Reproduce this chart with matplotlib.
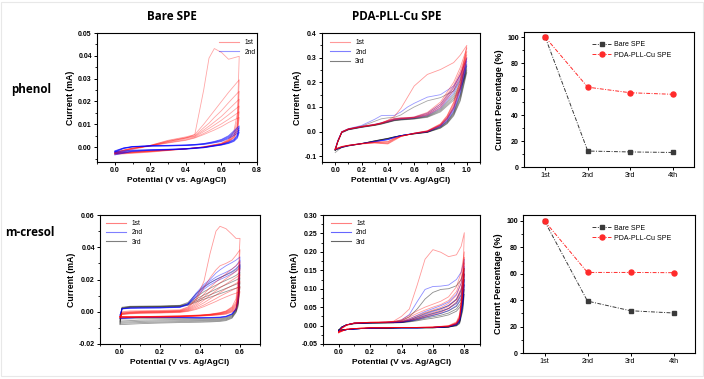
import matplotlib
matplotlib.use("Agg")
import matplotlib.pyplot as plt
from matplotlib.ticker import MultipleLocator, AutoMinorLocator
from matplotlib.lines import Line2D
from matplotlib.patches import Rectangle

plt.rcParams['font.family'] = ['Liberation Sans', 'DejaVu Sans']

W, H = 704, 379

# ---------------- Panel 1: Bare SPE, phenol ----------------
p1_E_fwd = [0.00, 0.05, 0.10, 0.20, 0.30, 0.40, 0.45, 0.50, 0.53, 0.56, 0.60, 0.64, 0.70]
p1_E_rev = [0.69, 0.67, 0.64, 0.60, 0.50, 0.40, 0.30, 0.20, 0.10, 0.00]
p1_red_fwd = [
    [-0.0030, -0.0020, -0.0010, 0.0005, 0.0025, 0.0040, 0.0055, 0.0250, 0.0390, 0.0432, 0.0415, 0.0385, 0.0398],
    [-0.0028, -0.0018, -0.0008, 0.0008, 0.0030, 0.0045, 0.0055, 0.0100, 0.0130, 0.0160, 0.0200, 0.0240, 0.0295],
    [-0.0026, -0.0016, -0.0007, 0.0008, 0.0028, 0.0042, 0.0050, 0.0085, 0.0105, 0.0130, 0.0160, 0.0195, 0.0245],
    [-0.0025, -0.0015, -0.0006, 0.0007, 0.0025, 0.0040, 0.0048, 0.0075, 0.0092, 0.0110, 0.0135, 0.0165, 0.0210],
    [-0.0024, -0.0014, -0.0005, 0.0006, 0.0022, 0.0036, 0.0045, 0.0068, 0.0082, 0.0097, 0.0118, 0.0142, 0.0180],
    [-0.0023, -0.0013, -0.0004, 0.0005, 0.0020, 0.0032, 0.0042, 0.0060, 0.0072, 0.0085, 0.0102, 0.0122, 0.0155],
    [-0.0022, -0.0012, -0.0003, 0.0005, 0.0018, 0.0030, 0.0040, 0.0055, 0.0065, 0.0075, 0.0090, 0.0108, 0.0130],
]
p1_red_rev = [
    [0.0150, 0.0070, 0.0035, 0.0018, 0.0002, -0.0008, -0.0015, -0.0022, -0.0027, -0.0032],
    [0.0120, 0.0060, 0.0032, 0.0016, 0.0001, -0.0008, -0.0014, -0.0020, -0.0025, -0.0030],
    [0.0100, 0.0052, 0.0030, 0.0015, 0.0001, -0.0007, -0.0013, -0.0019, -0.0024, -0.0029],
    [0.0090, 0.0048, 0.0028, 0.0014, 0.0000, -0.0007, -0.0013, -0.0018, -0.0023, -0.0028],
    [0.0080, 0.0045, 0.0026, 0.0013, 0.0000, -0.0007, -0.0012, -0.0017, -0.0022, -0.0027],
    [0.0072, 0.0042, 0.0025, 0.0012, -0.0001, -0.0007, -0.0012, -0.0016, -0.0021, -0.0026],
    [0.0065, 0.0040, 0.0024, 0.0012, -0.0001, -0.0007, -0.0011, -0.0016, -0.0020, -0.0025],
]
p1_blue_fwd = [
    [-0.0016, -0.0003, 0.0003, 0.0007, 0.0008, 0.0010, 0.0012, 0.0016, 0.0020, 0.0025, 0.0034, 0.0050, 0.0093],
    [-0.0018, -0.0004, 0.0002, 0.0006, 0.0007, 0.0009, 0.0011, 0.0015, 0.0019, 0.0023, 0.0031, 0.0046, 0.0085],
    [-0.0020, -0.0005, 0.0002, 0.0005, 0.0006, 0.0008, 0.0010, 0.0013, 0.0017, 0.0021, 0.0028, 0.0042, 0.0075],
    [-0.0022, -0.0006, 0.0001, 0.0004, 0.0005, 0.0007, 0.0009, 0.0012, 0.0015, 0.0019, 0.0025, 0.0038, 0.0065],
]
p1_blue_rev = [
    [0.0055, 0.0034, 0.0022, 0.0012, 0.0000, -0.0006, -0.0009, -0.0011, -0.0013, -0.0020],
    [0.0050, 0.0031, 0.0020, 0.0011, -0.0001, -0.0007, -0.0010, -0.0012, -0.0015, -0.0025],
    [0.0045, 0.0028, 0.0018, 0.0010, -0.0002, -0.0008, -0.0011, -0.0013, -0.0017, -0.0030],
    [0.0040, 0.0025, 0.0016, 0.0009, -0.0003, -0.0009, -0.0012, -0.0014, -0.0019, -0.0034],
]

# ---------------- Panel 2: PDA-PLL-Cu SPE, phenol ----------------
p2_E_fwd = [0.00, 0.02, 0.05, 0.10, 0.20, 0.30, 0.35, 0.40, 0.45, 0.50, 0.55, 0.60, 0.70, 0.80, 0.90, 0.95, 1.00]
p2_E_rev = [0.95, 0.90, 0.85, 0.80, 0.70, 0.60, 0.50, 0.45, 0.40, 0.30, 0.20, 0.10, 0.05, 0.00]
p2_red_fwd = [
    [-0.072, -0.040, -0.002, 0.010, 0.020, 0.028, 0.035, 0.046, 0.062, 0.095, 0.140, 0.185, 0.232, 0.252, 0.280, 0.310, 0.350],
    [-0.070, -0.038, 0.000, 0.012, 0.022, 0.030, 0.036, 0.046, 0.054, 0.056, 0.057, 0.060, 0.078, 0.120, 0.200, 0.260, 0.340],
    [-0.071, -0.039, -0.001, 0.011, 0.021, 0.029, 0.035, 0.044, 0.052, 0.055, 0.056, 0.058, 0.074, 0.112, 0.188, 0.245, 0.325],
    [-0.072, -0.040, -0.002, 0.010, 0.020, 0.028, 0.034, 0.042, 0.050, 0.053, 0.055, 0.057, 0.070, 0.105, 0.178, 0.235, 0.312],
    [-0.073, -0.041, -0.003, 0.009, 0.019, 0.027, 0.033, 0.040, 0.048, 0.052, 0.054, 0.056, 0.067, 0.098, 0.168, 0.225, 0.300],
]
p2_red_rev = [
    [0.210, 0.120, 0.065, 0.032, 0.004, -0.006, -0.020, -0.035, -0.050, -0.046, -0.050, -0.057, -0.062, -0.072],
    [0.200, 0.115, 0.062, 0.030, 0.003, -0.006, -0.019, -0.032, -0.048, -0.045, -0.049, -0.056, -0.061, -0.071],
    [0.190, 0.108, 0.058, 0.028, 0.002, -0.007, -0.019, -0.030, -0.045, -0.044, -0.049, -0.056, -0.061, -0.071],
    [0.180, 0.100, 0.054, 0.026, 0.001, -0.007, -0.018, -0.028, -0.042, -0.043, -0.048, -0.055, -0.060, -0.070],
    [0.170, 0.094, 0.050, 0.024, 0.000, -0.008, -0.018, -0.026, -0.040, -0.042, -0.048, -0.055, -0.060, -0.070],
]
p2_blue_fwd = [
    [-0.070, -0.035, 0.000, 0.012, 0.025, 0.050, 0.065, 0.066, 0.066, 0.080, 0.100, 0.115, 0.140, 0.150, 0.185, 0.230, 0.295],
    [-0.071, -0.037, -0.001, 0.011, 0.021, 0.030, 0.036, 0.044, 0.052, 0.055, 0.056, 0.059, 0.075, 0.112, 0.180, 0.230, 0.300],
    [-0.072, -0.038, -0.002, 0.010, 0.020, 0.029, 0.035, 0.042, 0.050, 0.053, 0.055, 0.057, 0.070, 0.104, 0.168, 0.218, 0.285],
    [-0.073, -0.039, -0.003, 0.009, 0.019, 0.028, 0.034, 0.040, 0.048, 0.051, 0.053, 0.055, 0.066, 0.096, 0.158, 0.205, 0.270],
]
p2_blue_rev = [
    [0.180, 0.100, 0.055, 0.027, 0.002, -0.006, -0.016, -0.024, -0.032, -0.040, -0.048, -0.056, -0.062, -0.072],
    [0.175, 0.095, 0.052, 0.025, 0.001, -0.007, -0.016, -0.024, -0.033, -0.041, -0.048, -0.056, -0.062, -0.072],
    [0.165, 0.090, 0.048, 0.023, 0.000, -0.007, -0.016, -0.023, -0.032, -0.041, -0.049, -0.057, -0.063, -0.073],
    [0.155, 0.084, 0.044, 0.021, -0.001, -0.008, -0.016, -0.023, -0.031, -0.040, -0.049, -0.057, -0.063, -0.073],
]
p2_gray_fwd = [
    [-0.075, -0.040, -0.001, 0.010, 0.022, 0.042, 0.052, 0.056, 0.058, 0.068, 0.085, 0.100, 0.125, 0.138, 0.165, 0.210, 0.275],
    [-0.074, -0.040, -0.002, 0.009, 0.019, 0.027, 0.033, 0.040, 0.047, 0.050, 0.052, 0.054, 0.064, 0.092, 0.150, 0.195, 0.265],
    [-0.075, -0.041, -0.003, 0.008, 0.018, 0.026, 0.032, 0.039, 0.046, 0.049, 0.051, 0.053, 0.062, 0.088, 0.142, 0.185, 0.255],
    [-0.076, -0.042, -0.004, 0.008, 0.018, 0.026, 0.031, 0.038, 0.045, 0.048, 0.050, 0.052, 0.060, 0.084, 0.135, 0.177, 0.248],
    [-0.077, -0.043, -0.005, 0.007, 0.017, 0.025, 0.030, 0.037, 0.044, 0.047, 0.049, 0.051, 0.058, 0.080, 0.128, 0.170, 0.240],
]
p2_gray_rev = [
    [0.150, 0.080, 0.042, 0.020, -0.001, -0.008, -0.016, -0.022, -0.029, -0.038, -0.048, -0.056, -0.063, -0.085],
    [0.145, 0.076, 0.040, 0.019, -0.002, -0.008, -0.016, -0.022, -0.028, -0.038, -0.048, -0.057, -0.063, -0.074],
    [0.138, 0.072, 0.037, 0.017, -0.002, -0.009, -0.016, -0.021, -0.028, -0.038, -0.049, -0.057, -0.064, -0.074],
    [0.130, 0.068, 0.034, 0.015, -0.003, -0.009, -0.016, -0.021, -0.027, -0.037, -0.049, -0.058, -0.064, -0.075],
    [0.124, 0.064, 0.032, 0.014, -0.003, -0.009, -0.016, -0.021, -0.027, -0.037, -0.049, -0.058, -0.065, -0.075],
]

# ---------------- Panel 4: Bare SPE, m-cresol ----------------
p4_E_fwd = [0.00, 0.01, 0.05, 0.10, 0.20, 0.30, 0.34, 0.38, 0.42, 0.45, 0.48, 0.50, 0.53, 0.56, 0.58, 0.60]
p4_E_rev = [0.59, 0.58, 0.56, 0.53, 0.50, 0.45, 0.40, 0.30, 0.20, 0.10, 0.00]
p4_red_fwd = [
    [-0.0040, 0.0000, 0.0005, 0.0006, 0.0008, 0.0012, 0.0030, 0.0080, 0.0190, 0.0360, 0.0500, 0.0530, 0.0515, 0.0480, 0.0455, 0.0455],
    [-0.0035, -0.0005, 0.0000, 0.0002, 0.0004, 0.0008, 0.0025, 0.0070, 0.0150, 0.0210, 0.0260, 0.0285, 0.0300, 0.0320, 0.0350, 0.0385],
    [-0.0033, -0.0008, -0.0003, 0.0000, 0.0002, 0.0006, 0.0020, 0.0055, 0.0110, 0.0150, 0.0185, 0.0205, 0.0235, 0.0265, 0.0285, 0.0310],
    [-0.0032, -0.0010, -0.0005, -0.0002, 0.0000, 0.0004, 0.0016, 0.0045, 0.0090, 0.0125, 0.0158, 0.0178, 0.0205, 0.0232, 0.0250, 0.0270],
    [-0.0031, -0.0012, -0.0007, -0.0004, -0.0002, 0.0002, 0.0012, 0.0036, 0.0072, 0.0102, 0.0130, 0.0148, 0.0172, 0.0196, 0.0212, 0.0230],
    [-0.0030, -0.0014, -0.0009, -0.0006, -0.0004, 0.0000, 0.0008, 0.0028, 0.0056, 0.0080, 0.0104, 0.0120, 0.0142, 0.0162, 0.0176, 0.0190],
    [-0.0030, -0.0016, -0.0011, -0.0008, -0.0006, -0.0002, 0.0005, 0.0020, 0.0042, 0.0062, 0.0082, 0.0096, 0.0115, 0.0133, 0.0145, 0.0155],
    [-0.0030, -0.0018, -0.0013, -0.0010, -0.0008, -0.0004, 0.0002, 0.0014, 0.0032, 0.0048, 0.0064, 0.0076, 0.0092, 0.0107, 0.0115, 0.0125],
]
p4_red_rev = [
    [0.0200, 0.0080, 0.0030, 0.0005, -0.0005, -0.0015, -0.0020, -0.0025, -0.0028, -0.0030, -0.0040],
    [0.0150, 0.0060, 0.0025, 0.0003, -0.0007, -0.0016, -0.0021, -0.0026, -0.0028, -0.0030, -0.0035],
    [0.0130, 0.0050, 0.0020, 0.0000, -0.0009, -0.0017, -0.0022, -0.0027, -0.0029, -0.0031, -0.0034],
    [0.0110, 0.0042, 0.0015, -0.0003, -0.0011, -0.0018, -0.0023, -0.0028, -0.0030, -0.0032, -0.0033],
    [0.0095, 0.0035, 0.0010, -0.0006, -0.0013, -0.0020, -0.0024, -0.0029, -0.0031, -0.0032, -0.0032],
    [0.0080, 0.0028, 0.0006, -0.0009, -0.0015, -0.0021, -0.0025, -0.0030, -0.0032, -0.0033, -0.0031],
    [0.0065, 0.0020, 0.0002, -0.0012, -0.0017, -0.0023, -0.0026, -0.0031, -0.0033, -0.0034, -0.0030],
    [0.0050, 0.0012, -0.0002, -0.0015, -0.0019, -0.0024, -0.0027, -0.0032, -0.0034, -0.0035, -0.0030],
]
p4_blue_fwd = [
    [-0.0020, 0.0020, 0.0024, 0.0025, 0.0026, 0.0030, 0.0050, 0.0115, 0.0170, 0.0200, 0.0240, 0.0260, 0.0285, 0.0305, 0.0320, 0.0340],
    [-0.0021, 0.0019, 0.0023, 0.0024, 0.0025, 0.0029, 0.0048, 0.0108, 0.0160, 0.0190, 0.0215, 0.0228, 0.0245, 0.0265, 0.0285, 0.0320],
    [-0.0022, 0.0018, 0.0022, 0.0023, 0.0024, 0.0028, 0.0046, 0.0100, 0.0150, 0.0178, 0.0200, 0.0212, 0.0230, 0.0250, 0.0268, 0.0295],
    [-0.0024, 0.0017, 0.0021, 0.0022, 0.0023, 0.0027, 0.0042, 0.0092, 0.0140, 0.0166, 0.0188, 0.0200, 0.0217, 0.0236, 0.0252, 0.0280],
]
p4_blue_rev = [
    [0.0080, 0.0020, -0.0012, -0.0028, -0.0033, -0.0035, -0.0036, -0.0035, -0.0034, -0.0034, -0.0038],
    [0.0075, 0.0018, -0.0014, -0.0029, -0.0034, -0.0036, -0.0037, -0.0036, -0.0035, -0.0035, -0.0040],
    [0.0070, 0.0016, -0.0015, -0.0030, -0.0035, -0.0037, -0.0038, -0.0036, -0.0035, -0.0035, -0.0041],
    [0.0065, 0.0014, -0.0016, -0.0031, -0.0036, -0.0038, -0.0039, -0.0037, -0.0036, -0.0036, -0.0043],
]
p4_gray_fwd = [
    [-0.0045, 0.0028, 0.0034, 0.0035, 0.0036, 0.0040, 0.0058, 0.0110, 0.0155, 0.0180, 0.0200, 0.0212, 0.0228, 0.0246, 0.0262, 0.0290],
    [-0.0055, 0.0025, 0.0032, 0.0033, 0.0034, 0.0038, 0.0052, 0.0090, 0.0125, 0.0145, 0.0165, 0.0178, 0.0195, 0.0212, 0.0225, 0.0245],
    [-0.0062, 0.0022, 0.0030, 0.0031, 0.0032, 0.0036, 0.0048, 0.0078, 0.0105, 0.0122, 0.0140, 0.0152, 0.0168, 0.0185, 0.0196, 0.0210],
    [-0.0070, 0.0020, 0.0028, 0.0029, 0.0030, 0.0034, 0.0044, 0.0068, 0.0090, 0.0105, 0.0120, 0.0130, 0.0145, 0.0160, 0.0170, 0.0180],
    [-0.0078, 0.0018, 0.0026, 0.0027, 0.0028, 0.0032, 0.0040, 0.0060, 0.0078, 0.0090, 0.0103, 0.0112, 0.0125, 0.0138, 0.0146, 0.0155],
]
p4_gray_rev = [
    [0.0070, 0.0015, -0.0020, -0.0035, -0.0040, -0.0042, -0.0042, -0.0042, -0.0042, -0.0043, -0.0045],
    [0.0060, 0.0010, -0.0025, -0.0040, -0.0045, -0.0048, -0.0048, -0.0048, -0.0050, -0.0052, -0.0058],
    [0.0050, 0.0005, -0.0030, -0.0045, -0.0050, -0.0053, -0.0054, -0.0055, -0.0057, -0.0060, -0.0065],
    [0.0040, 0.0000, -0.0035, -0.0050, -0.0055, -0.0058, -0.0059, -0.0061, -0.0064, -0.0067, -0.0072],
    [0.0030, -0.0005, -0.0040, -0.0055, -0.0060, -0.0063, -0.0065, -0.0067, -0.0070, -0.0074, -0.0080],
]

# ---------------- Panel 5: PDA-PLL-Cu SPE, m-cresol ----------------
p5_E_fwd = [0.00, 0.02, 0.05, 0.10, 0.20, 0.30, 0.35, 0.40, 0.45, 0.50, 0.55, 0.60, 0.65, 0.70, 0.75, 0.78, 0.80]
p5_E_rev = [0.79, 0.77, 0.75, 0.70, 0.60, 0.50, 0.40, 0.30, 0.20, 0.10, 0.05, 0.00]
p5_red_fwd = [
    [-0.020, -0.008, 0.000, 0.006, 0.008, 0.009, 0.012, 0.025, 0.045, 0.110, 0.180, 0.206, 0.199, 0.187, 0.192, 0.215, 0.252],
    [-0.019, -0.007, 0.001, 0.007, 0.009, 0.010, 0.011, 0.016, 0.028, 0.040, 0.050, 0.058, 0.066, 0.078, 0.105, 0.145, 0.200],
    [-0.018, -0.007, 0.001, 0.007, 0.009, 0.010, 0.011, 0.014, 0.023, 0.033, 0.042, 0.050, 0.057, 0.068, 0.092, 0.128, 0.185],
    [-0.018, -0.006, 0.002, 0.007, 0.009, 0.009, 0.010, 0.012, 0.019, 0.027, 0.035, 0.042, 0.049, 0.060, 0.082, 0.115, 0.170],
    [-0.017, -0.006, 0.002, 0.007, 0.008, 0.009, 0.010, 0.011, 0.016, 0.022, 0.029, 0.035, 0.042, 0.052, 0.072, 0.102, 0.155],
    [-0.017, -0.006, 0.002, 0.007, 0.008, 0.009, 0.009, 0.010, 0.014, 0.018, 0.024, 0.030, 0.036, 0.046, 0.064, 0.092, 0.140],
]
p5_red_rev = [
    [0.120, 0.030, 0.010, 0.000, -0.004, -0.005, -0.005, -0.006, -0.006, -0.008, -0.010, -0.020],
    [0.100, 0.025, 0.008, -0.001, -0.004, -0.005, -0.005, -0.006, -0.006, -0.008, -0.010, -0.019],
    [0.095, 0.023, 0.007, -0.001, -0.004, -0.005, -0.005, -0.006, -0.006, -0.008, -0.010, -0.018],
    [0.090, 0.021, 0.006, -0.002, -0.004, -0.005, -0.005, -0.006, -0.006, -0.008, -0.010, -0.018],
    [0.085, 0.019, 0.005, -0.002, -0.005, -0.005, -0.005, -0.006, -0.006, -0.008, -0.010, -0.017],
    [0.080, 0.017, 0.004, -0.002, -0.005, -0.005, -0.005, -0.006, -0.006, -0.008, -0.010, -0.017],
]
p5_blue_fwd = [
    [-0.016, -0.005, 0.002, 0.007, 0.008, 0.009, 0.010, 0.015, 0.030, 0.065, 0.098, 0.106, 0.107, 0.110, 0.125, 0.145, 0.180],
    [-0.016, -0.005, 0.002, 0.007, 0.008, 0.009, 0.009, 0.011, 0.018, 0.028, 0.038, 0.046, 0.054, 0.064, 0.085, 0.115, 0.160],
    [-0.016, -0.005, 0.002, 0.007, 0.008, 0.009, 0.009, 0.010, 0.015, 0.023, 0.031, 0.038, 0.045, 0.055, 0.072, 0.098, 0.140],
    [-0.015, -0.005, 0.002, 0.006, 0.008, 0.008, 0.009, 0.010, 0.013, 0.019, 0.026, 0.032, 0.038, 0.047, 0.062, 0.085, 0.125],
    [-0.015, -0.005, 0.002, 0.006, 0.007, 0.008, 0.008, 0.009, 0.012, 0.016, 0.022, 0.027, 0.033, 0.041, 0.054, 0.075, 0.112],
]
p5_blue_rev = [
    [0.090, 0.020, 0.006, -0.002, -0.005, -0.006, -0.006, -0.006, -0.007, -0.009, -0.011, -0.016],
    [0.080, 0.018, 0.005, -0.002, -0.005, -0.006, -0.006, -0.006, -0.007, -0.009, -0.011, -0.016],
    [0.070, 0.015, 0.004, -0.003, -0.005, -0.006, -0.006, -0.006, -0.007, -0.009, -0.011, -0.015],
    [0.062, 0.013, 0.003, -0.003, -0.005, -0.006, -0.006, -0.006, -0.007, -0.009, -0.011, -0.015],
    [0.055, 0.011, 0.002, -0.003, -0.005, -0.006, -0.006, -0.006, -0.007, -0.009, -0.011, -0.015],
]
p5_gray_fwd = [
    [-0.014, -0.004, 0.002, 0.006, 0.008, 0.008, 0.009, 0.013, 0.024, 0.045, 0.072, 0.090, 0.098, 0.100, 0.108, 0.125, 0.155],
    [-0.014, -0.004, 0.002, 0.006, 0.007, 0.008, 0.008, 0.010, 0.015, 0.024, 0.033, 0.040, 0.046, 0.054, 0.070, 0.095, 0.140],
    [-0.013, -0.004, 0.002, 0.006, 0.007, 0.008, 0.008, 0.009, 0.013, 0.020, 0.027, 0.033, 0.039, 0.046, 0.060, 0.082, 0.125],
    [-0.013, -0.004, 0.002, 0.006, 0.007, 0.008, 0.008, 0.009, 0.012, 0.017, 0.023, 0.028, 0.033, 0.040, 0.052, 0.071, 0.110],
    [-0.012, -0.004, 0.002, 0.005, 0.007, 0.007, 0.008, 0.008, 0.011, 0.015, 0.020, 0.024, 0.028, 0.034, 0.045, 0.062, 0.098],
    [-0.012, -0.004, 0.002, 0.005, 0.007, 0.007, 0.007, 0.008, 0.010, 0.013, 0.017, 0.020, 0.024, 0.029, 0.039, 0.054, 0.085],
]
p5_gray_rev = [
    [0.070, 0.015, 0.004, -0.003, -0.005, -0.006, -0.006, -0.007, -0.007, -0.009, -0.011, -0.014],
    [0.065, 0.013, 0.003, -0.003, -0.005, -0.006, -0.006, -0.007, -0.007, -0.009, -0.011, -0.014],
    [0.058, 0.011, 0.002, -0.004, -0.006, -0.006, -0.006, -0.007, -0.007, -0.009, -0.011, -0.013],
    [0.052, 0.009, 0.001, -0.004, -0.006, -0.006, -0.006, -0.007, -0.007, -0.009, -0.011, -0.013],
    [0.046, 0.007, 0.000, -0.004, -0.006, -0.006, -0.006, -0.007, -0.007, -0.009, -0.011, -0.012],
    [0.040, 0.005, -0.001, -0.004, -0.006, -0.006, -0.006, -0.007, -0.007, -0.009, -0.011, -0.012],
]

# ---------------- Panels 3 & 6: current percentage ----------------
scan_labels = ['1st', '2nd', '3rd', '4th']
phenol_bare = [100, 12.3, 11.6, 11.2]
phenol_pda = [100, 61.5, 57.2, 56.0]
cresol_bare = [100, 39.3, 32.0, 30.3]
cresol_pda = [100, 61.0, 61.0, 60.8]

RED = '#ff0000'
BLUE = '#0000ff'
BLACK = '#000000'

fig = plt.figure(figsize=(W / 100, H / 100), dpi=100)
fig.patches.append(Rectangle((0.002, 0.008), 0.996, 0.988, transform=fig.transFigure,
                             fill=False, edgecolor='#e8e8e8', linewidth=0.8))


def add_ax(l, t, r, b):
    return fig.add_axes([l / W, 1 - b / H, (r - l) / W, (b - t) / H])


def style(ax, xlabel, ylabel, xlabel_size=6, ylabel_size=6.3):
    for s in ax.spines.values():
        s.set_linewidth(0.8)
    ax.tick_params(which='major', direction='out', length=2.2, width=0.7, labelsize=5, pad=1.5)
    ax.tick_params(which='minor', direction='out', length=1.3, width=0.6)
    for lab in ax.get_xticklabels() + ax.get_yticklabels():
        lab.set_fontweight('bold')
    ax.set_xlabel(xlabel, fontsize=xlabel_size, fontweight='bold', labelpad=2)
    ax.set_ylabel(ylabel, fontsize=ylabel_size, fontweight='bold', labelpad=2)


def draw_cv(ax, E_fwd, E_rev, groups):
    for fwd_list, rev_list, color, alpha in groups:
        for f, r in zip(fwd_list, rev_list):
            ax.plot(E_fwd + E_rev, f + r, color=color, alpha=alpha, lw=0.6)


def cv_legend(ax, labels, colors, alphas, loc, anchor):
    handles = [Line2D([], [], color=c, alpha=a, lw=0.8) for c, a in zip(colors, alphas)]
    ax.legend(handles, labels, loc=loc, bbox_to_anchor=anchor, frameon=False,
              fontsize=4.8, handlelength=3.0, handletextpad=0.8, labelspacing=0.35,
              borderaxespad=0, borderpad=0)


xlab = 'Potential (V vs. Ag/AgCl)'
ylab = 'Current (mA)'

# Panel 1
ax1 = add_ax(97, 33, 257, 162)
draw_cv(ax1, p1_E_fwd, p1_E_rev, [(p1_red_fwd, p1_red_rev, RED, 0.35),
                                  (p1_blue_fwd, p1_blue_rev, BLUE, 0.6)])
ax1.set_xlim(-0.1, 0.8)
ax1.set_ylim(-0.0065, 0.05)
ax1.xaxis.set_major_locator(MultipleLocator(0.2))
ax1.xaxis.set_minor_locator(MultipleLocator(0.1))
ax1.yaxis.set_major_locator(MultipleLocator(0.01))
ax1.yaxis.set_minor_locator(MultipleLocator(0.005))
ax1.yaxis.set_major_formatter(matplotlib.ticker.FormatStrFormatter('%.2f'))
ax1.xaxis.set_major_formatter(matplotlib.ticker.FormatStrFormatter('%.1f'))
style(ax1, xlab, ylab)
cv_legend(ax1, ['1st', '2nd'], [RED, BLUE], [0.4, 0.4], 'upper right', (0.99, 0.95))

# Panel 2
ax2 = add_ax(322, 33, 480, 162)
draw_cv(ax2, p2_E_fwd, p2_E_rev, [(p2_gray_fwd, p2_gray_rev, BLACK, 0.35),
                                  (p2_blue_fwd, p2_blue_rev, BLUE, 0.4),
                                  (p2_red_fwd, p2_red_rev, RED, 0.4)])
ax2.set_xlim(-0.1, 1.1)
ax2.set_ylim(-0.123, 0.4)
ax2.xaxis.set_major_locator(MultipleLocator(0.2))
ax2.xaxis.set_minor_locator(MultipleLocator(0.1))
ax2.yaxis.set_major_locator(MultipleLocator(0.1))
ax2.yaxis.set_minor_locator(MultipleLocator(0.05))
ax2.yaxis.set_major_formatter(matplotlib.ticker.FormatStrFormatter('%.1f'))
ax2.xaxis.set_major_formatter(matplotlib.ticker.FormatStrFormatter('%.1f'))
style(ax2, xlab, ylab)
cv_legend(ax2, ['1st', '2nd', '3rd'], [RED, BLUE, BLACK], [0.4, 0.5, 0.5], 'upper left', (0.05, 0.95))

# Panel 4
ax4 = add_ax(100, 215, 260, 344)
draw_cv(ax4, p4_E_fwd, p4_E_rev, [(p4_gray_fwd, p4_gray_rev, BLACK, 0.4),
                                  (p4_blue_fwd, p4_blue_rev, BLUE, 0.45),
                                  (p4_red_fwd, p4_red_rev, RED, 0.4)])
ax4.set_xlim(-0.1, 0.7)
ax4.set_ylim(-0.02, 0.06)
ax4.xaxis.set_major_locator(MultipleLocator(0.2))
ax4.xaxis.set_minor_locator(MultipleLocator(0.1))
ax4.yaxis.set_major_locator(MultipleLocator(0.02))
ax4.yaxis.set_minor_locator(MultipleLocator(0.01))
ax4.yaxis.set_major_formatter(matplotlib.ticker.FormatStrFormatter('%.2f'))
ax4.xaxis.set_major_formatter(matplotlib.ticker.FormatStrFormatter('%.1f'))
style(ax4, xlab, ylab)
cv_legend(ax4, ['1st', '2nd', '3rd'], [RED, BLUE, BLACK], [0.5, 0.5, 0.5], 'upper left', (0.04, 0.96))

# Panel 5
ax5 = add_ax(323, 215, 480, 344)
draw_cv(ax5, p5_E_fwd, p5_E_rev, [(p5_gray_fwd, p5_gray_rev, BLACK, 0.45),
                                  (p5_blue_fwd, p5_blue_rev, BLUE, 0.45),
                                  (p5_red_fwd, p5_red_rev, RED, 0.4)])
ax5.set_xlim(-0.1, 0.9)
ax5.set_ylim(-0.05, 0.30)
ax5.xaxis.set_major_locator(MultipleLocator(0.2))
ax5.xaxis.set_minor_locator(MultipleLocator(0.1))
ax5.yaxis.set_major_locator(MultipleLocator(0.05))
ax5.yaxis.set_minor_locator(MultipleLocator(0.025))
ax5.yaxis.set_major_formatter(matplotlib.ticker.FormatStrFormatter('%.2f'))
ax5.xaxis.set_major_formatter(matplotlib.ticker.FormatStrFormatter('%.1f'))
style(ax5, xlab, ylab)
cv_legend(ax5, ['1st', '2nd', '3rd'], [RED, BLUE, BLACK], [0.5, 0.6, 0.6], 'upper left', (0.05, 0.96))


def pct_panel(ax, bare, pda, ytop):
    x = list(range(1, len(scan_labels) + 1))
    ax.plot(x, bare, color='#3a3a3a', lw=0.7, ls=(0, (4, 1.5, 1, 1.5)), marker='s', ms=3.2,
            label='Bare SPE')
    ax.plot(x, pda, color='#ff2a2a', lw=0.7, ls=(0, (4, 1.5, 1, 1.5)), marker='o', ms=3.6,
            label='PDA-PLL-Cu SPE')
    ax.set_xlim(0.5, 4.5)
    ax.set_ylim(0, ytop)
    ax.set_xticks(x)
    ax.set_xticklabels(scan_labels)
    ax.yaxis.set_major_locator(MultipleLocator(20))
    ax.yaxis.set_minor_locator(MultipleLocator(10))
    style(ax, '', 'Current Percentage (%)', ylabel_size=6.5)
    for lab in ax.get_xticklabels():
        lab.set_fontweight('normal')
        lab.set_fontsize(5.2)
    ax.legend(loc='upper left', bbox_to_anchor=(0.4, 0.93), frameon=False, fontsize=5,
              handlelength=2.8, handletextpad=0.4, labelspacing=0.45, borderaxespad=0,
              borderpad=0)


ax3 = add_ax(524, 32, 694, 167)
pct_panel(ax3, phenol_bare, phenol_pda, 104)

ax6 = add_ax(523, 215, 695, 353)
pct_panel(ax6, cresol_bare, cresol_pda, 104.5)

# Titles and row labels
tfont = dict(family=['Open Sans', 'DejaVu Sans'], fontweight='bold', fontsize=8.4,
             ha='center', va='center')
fig.text(172 / W, 1 - 16 / H, 'Bare SPE', **tfont)
fig.text(397 / W, 1 - 16 / H, 'PDA-PLL-Cu SPE', **tfont)
fig.text(31 / W, 1 - 90 / H, 'phenol', **tfont)
fig.text(30 / W, 1 - 232 / H, 'm-cresol', **tfont)

fig.savefig('out.png', dpi=100)
